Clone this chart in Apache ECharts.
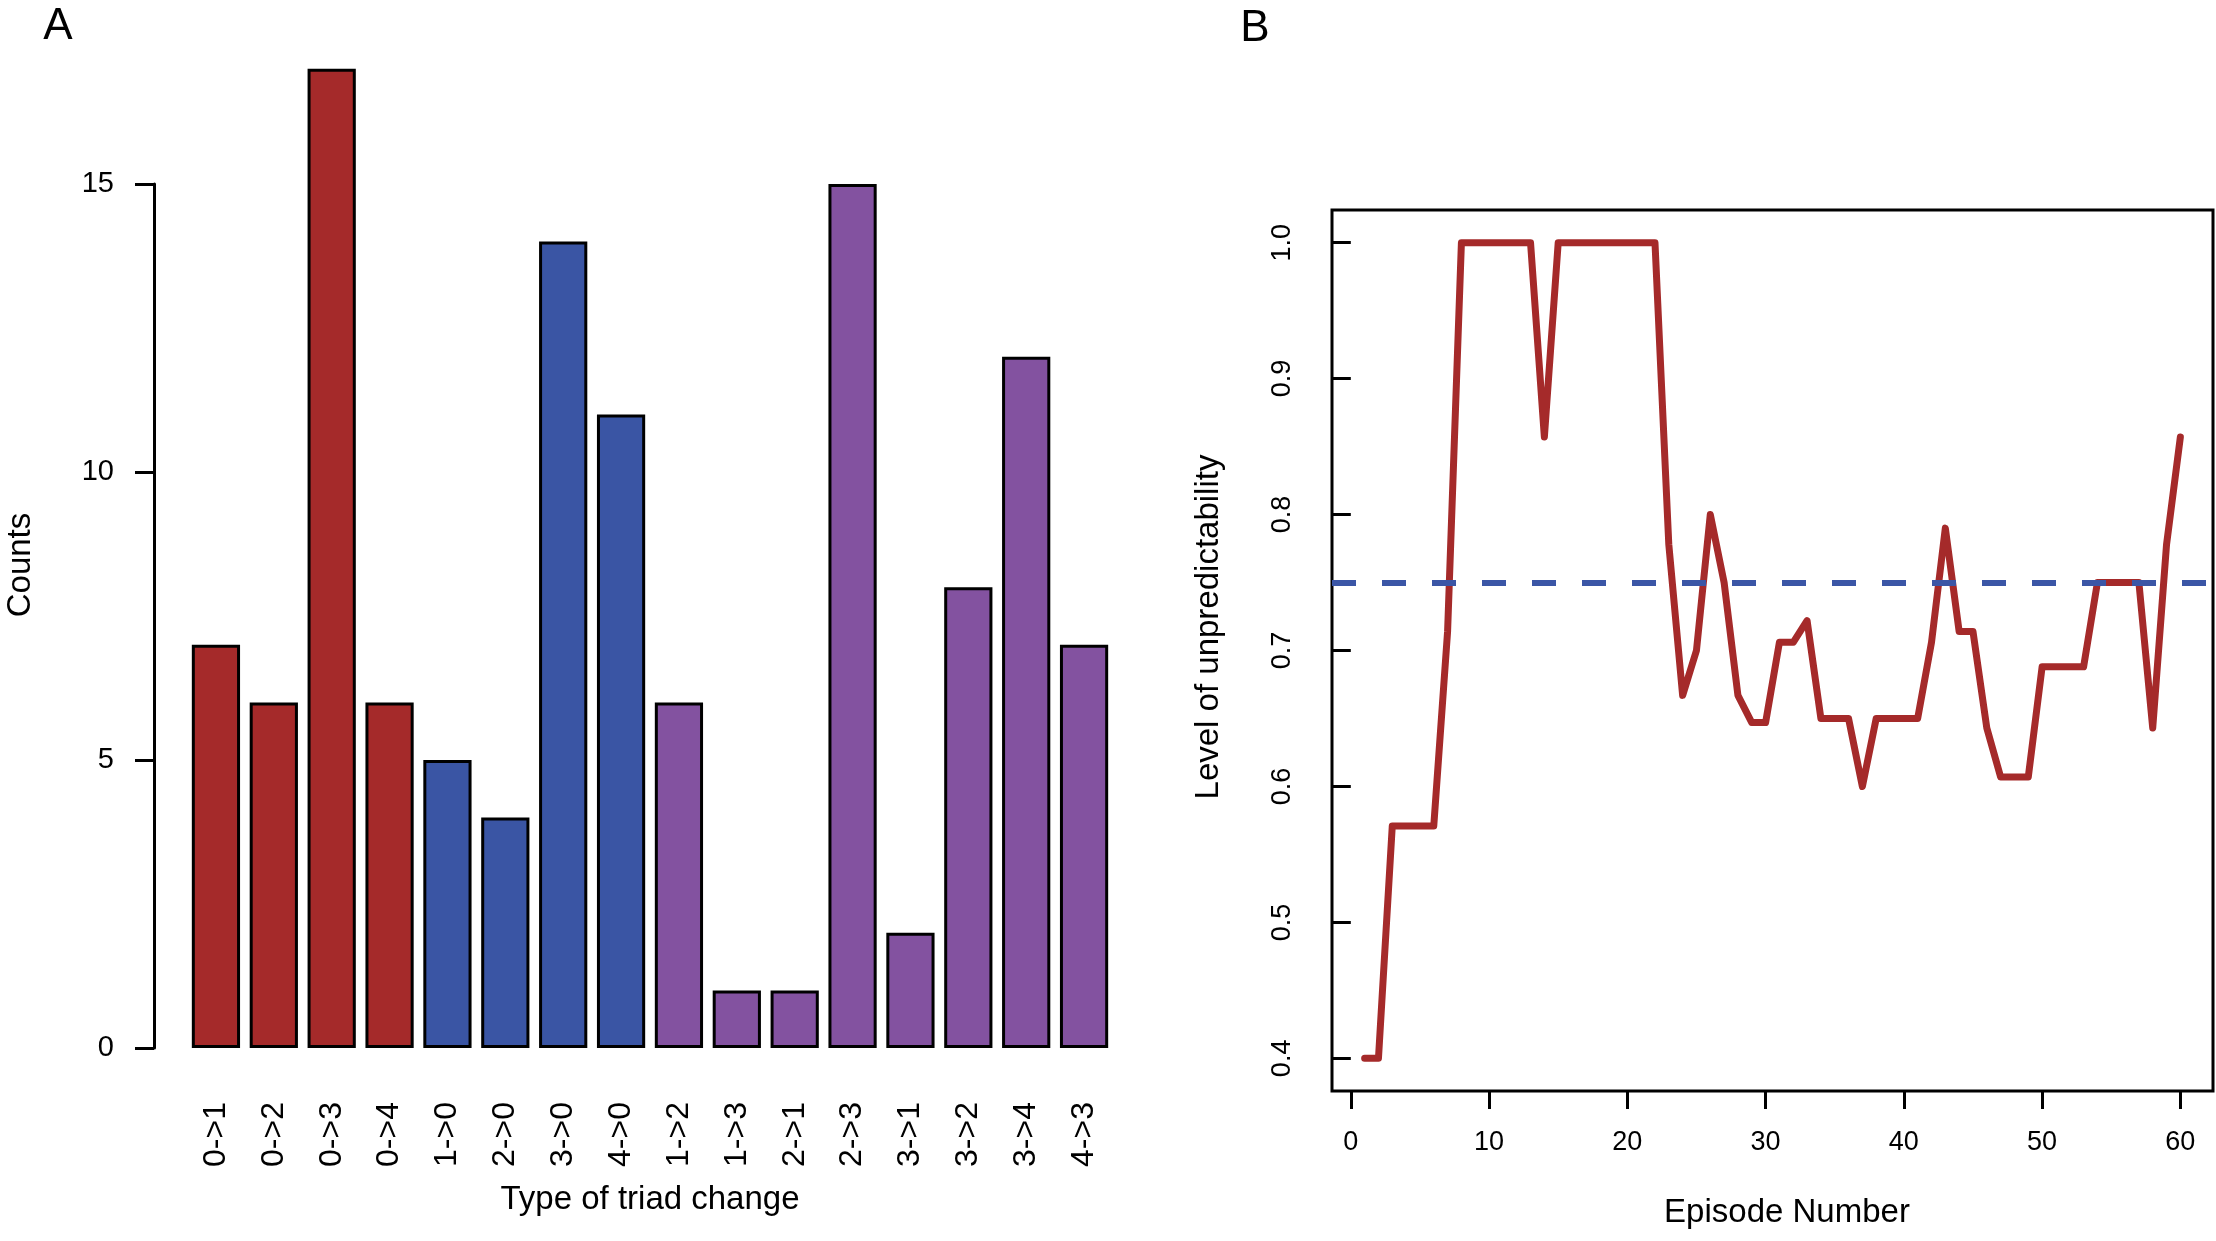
<!DOCTYPE html>
<html>
<head>
<meta charset="utf-8">
<script src="https://cdn.jsdelivr.net/npm/echarts@6/dist/echarts.min.js"></script>
<style>
html,body{margin:0;padding:0;background:#fff;}
#chart{width:2216px;height:1241px;}
</style>
</head>
<body>
<div id="chart"></div>
<script>
// ---- Panel A data ----
const categories = ['0->1','0->2','0->3','0->4','1->0','2->0','3->0','4->0','1->2','1->3','2->1','2->3','3->1','3->2','3->4','4->3'];
const counts = [7, 6, 17, 6, 5, 4, 14, 11, 6, 1, 1, 15, 2, 8, 12, 7];
const groups = ['red','red','red','red','blue','blue','blue','blue','purple','purple','purple','purple','purple','purple','purple','purple'];
const countTicks = [0, 5, 10, 15];

// ---- Panel B data ----
const episodes = [1,2,3,4,5,6,7,8,9,10,11,12,13,14,15,16,17,18,19,20,21,22,23,24,25,26,27,28,29,30,31,32,33,34,35,36,37,38,39,40,41,42,43,44,45,46,47,48,49,50,51,52,53,54,55,56,57,58,59,60];
const unpredictability = [
  0.400, 0.400, 0.571, 0.571, 0.571, 0.571, 0.714, 1.000, 1.000, 1.000,
  1.000, 1.000, 1.000, 0.857, 1.000, 1.000, 1.000, 1.000, 1.000, 1.000,
  1.000, 1.000, 0.778, 0.667, 0.700, 0.800, 0.750, 0.667, 0.647, 0.647,
  0.706, 0.706, 0.722, 0.650, 0.650, 0.650, 0.600, 0.650, 0.650, 0.650,
  0.650, 0.706, 0.790, 0.714, 0.714, 0.643, 0.607, 0.607, 0.607, 0.688,
  0.688, 0.688, 0.688, 0.750, 0.750, 0.750, 0.750, 0.643, 0.778, 0.857
];
const threshold = 0.75;
const episodeTicks = [0, 10, 20, 30, 40, 50, 60];
const levelTicks = [0.4, 0.5, 0.6, 0.7, 0.8, 0.9, 1.0];

// ---- styling ----
const groupColors = { red: '#A52A2A', blue: '#3A55A4', purple: '#8352A0' };
const FONT = "'Liberation Sans', Arial, Helvetica, sans-serif";

const barData = counts.map((v, i) => ({
  value: v,
  itemStyle: { color: groupColors[groups[i]], borderColor: '#000', borderWidth: 3 }
}));
const lineData = episodes.map((e, i) => [e, unpredictability[i]]);

function label(text, x, y, size, rot) {
  return {
    type: 'text', x: x, y: y, rotation: rot || 0, silent: true,
    style: { text: text, x: 0, y: 0, align: 'center', verticalAlign: 'middle',
             fill: '#000', font: size + 'px ' + FONT }
  };
}

const chart = echarts.init(document.getElementById('chart'), null, { renderer: 'canvas' });
chart.setOption({
  animation: false,
  backgroundColor: '#fff',
  textStyle: { fontFamily: FONT, color: '#000' },
  grid: [
    { left: 187, right: 2216 - 1113, top: 184, bottom: 1241 - 1048, containLabel: false },
    { left: 1332, right: 3, top: 210, bottom: 1241 - 1091, containLabel: false,
      show: true, borderColor: '#000', borderWidth: 3, backgroundColor: 'transparent' }
  ],
  xAxis: [
    {
      gridIndex: 0, type: 'category', data: categories,
      axisLine: { show: false }, axisTick: { show: false },
      axisLabel: { rotate: 90, margin: 54, fontSize: 32, color: '#000', fontFamily: FONT, interval: 0 },
      splitLine: { show: false }
    },
    {
      gridIndex: 1, type: 'value', min: -1.36, max: 62.36,
      axisLine: { show: false },
      axisTick: { show: true, length: 18, lineStyle: { color: '#000', width: 3 }, customValues: episodeTicks },
      axisLabel: { show: true, margin: 38, fontSize: 27, color: '#000', fontFamily: FONT, customValues: episodeTicks },
      splitLine: { show: false }
    }
  ],
  yAxis: [
    {
      gridIndex: 0, type: 'value', min: 0, max: 15, interval: 5, offset: 33,
      axisLine: { show: true, lineStyle: { color: '#000', width: 3 } },
      axisTick: { show: true, length: 19, lineStyle: { color: '#000', width: 3 } },
      axisLabel: { margin: 40, fontSize: 29, color: '#000', fontFamily: FONT },
      splitLine: { show: false }
    },
    {
      gridIndex: 1, type: 'value', min: 0.376, max: 1.024,
      axisLine: { show: false },
      axisTick: { show: true, length: 19, lineStyle: { color: '#000', width: 3 }, customValues: levelTicks },
      axisLabel: { show: true, rotate: 90, margin: 36, fontSize: 27, color: '#000', fontFamily: FONT,
                   customValues: levelTicks, formatter: v => Number(v).toFixed(1) },
      splitLine: { show: false }
    }
  ],
  series: [
    {
      type: 'bar', xAxisIndex: 0, yAxisIndex: 0, data: barData,
      barCategoryGap: '16.667%', clip: false, silent: true
    },
    {
      type: 'line', xAxisIndex: 1, yAxisIndex: 1, data: lineData,
      showSymbol: false, symbol: 'none', silent: true, z: 2,
      lineStyle: { color: '#A52A2A', width: 7, cap: 'round', join: 'round' }
    },
    {
      type: 'line', xAxisIndex: 1, yAxisIndex: 1, data: [], silent: true, z: 5,
      markLine: {
        silent: true, symbol: 'none', label: { show: false }, animation: false,
        lineStyle: { color: '#3B56A6', width: 6, type: [24, 26] },
        emphasis: { disabled: true },
        data: [{ yAxis: threshold }]
      }
    }
  ],
  graphic: [
    label('A', 58, 27, 44),
    label('B', 1255, 29, 44),
    label('Counts', 21, 565, 33, Math.PI / 2),
    label('Type of triad change', 650, 1200, 33),
    label('Level of unpredictability', 1209, 627, 33, Math.PI / 2),
    label('Episode Number', 1787, 1213, 33)
  ]
});
</script>
</body>
</html>
